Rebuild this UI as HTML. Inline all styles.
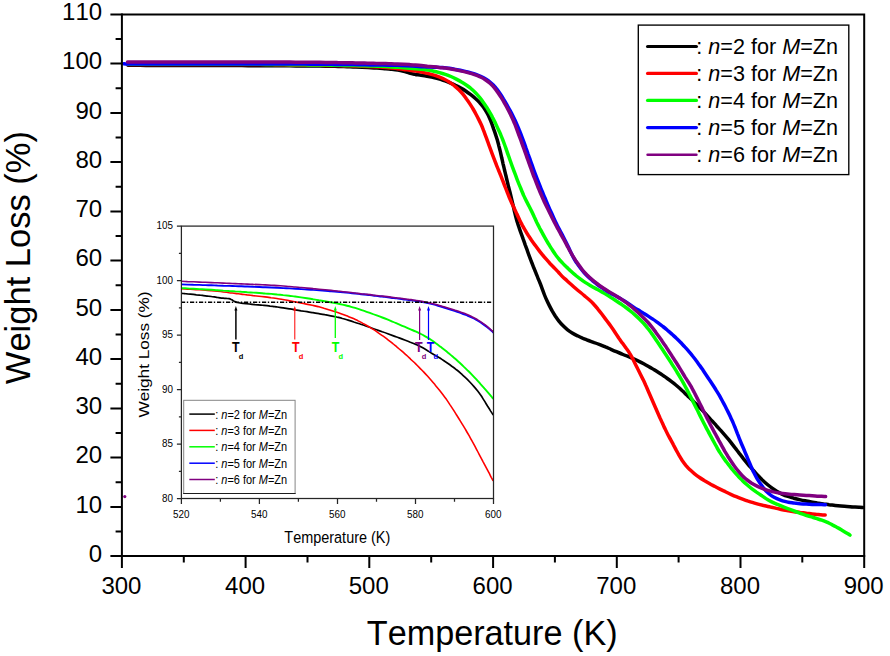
<!DOCTYPE html>
<html><head><meta charset="utf-8"><title>TGA</title>
<style>html,body{margin:0;padding:0;background:#fff}body{width:890px;height:656px;overflow:hidden}svg{display:block}text{font-family:"Liberation Sans",sans-serif;fill:#000;font-kerning:none}</style>
</head><body>
<svg width="890" height="656" viewBox="0 0 890 656">
<rect width="890" height="656" fill="#fff"/>
<g fill="none" stroke-width="3.5" stroke-linejoin="round" stroke-linecap="round">
<path stroke="#000000" d="M128.0,65.3C129.0,65.3 132.0,65.3 134.0,65.3C136.0,65.3 138.0,65.3 140.0,65.3C142.0,65.3 144.0,65.3 146.0,65.4C148.0,65.4 150.0,65.4 152.0,65.4C154.0,65.4 156.0,65.4 158.0,65.4C160.0,65.4 162.0,65.4 164.0,65.4C166.0,65.4 168.0,65.4 170.0,65.4C172.0,65.4 174.0,65.4 176.0,65.4C178.0,65.4 180.0,65.5 182.0,65.5C184.0,65.5 186.0,65.5 188.0,65.5C190.0,65.5 192.0,65.5 194.0,65.5C196.0,65.5 198.0,65.5 200.0,65.5C202.0,65.5 204.0,65.5 206.0,65.5C208.0,65.5 210.0,65.5 212.0,65.5C214.0,65.6 216.0,65.6 218.0,65.6C220.0,65.6 222.0,65.6 224.0,65.6C226.0,65.6 228.0,65.6 230.0,65.6C232.0,65.6 234.0,65.6 236.0,65.6C238.0,65.6 240.0,65.6 242.0,65.6C244.0,65.7 246.0,65.7 248.0,65.7C250.0,65.7 252.0,65.7 254.0,65.7C256.0,65.7 258.0,65.7 260.0,65.7C262.0,65.7 264.0,65.7 266.0,65.7C268.0,65.7 270.0,65.7 272.0,65.8C274.0,65.8 276.0,65.8 278.0,65.8C280.0,65.8 282.0,65.8 284.0,65.8C286.0,65.8 288.0,65.8 290.0,65.8C292.0,65.9 294.0,65.9 296.0,65.9C298.0,65.9 300.0,65.9 302.0,65.9C304.0,65.9 306.0,65.9 308.0,66.0C310.0,66.0 312.0,66.0 314.0,66.0C316.0,66.0 318.0,66.1 320.0,66.1C322.0,66.1 324.0,66.1 326.0,66.2C328.0,66.2 330.0,66.2 332.0,66.3C334.0,66.3 336.0,66.4 338.0,66.4C340.0,66.5 342.0,66.5 344.0,66.6C346.0,66.7 348.0,66.7 350.0,66.8C352.0,66.9 354.0,66.9 356.0,67.0C358.0,67.1 360.0,67.2 362.0,67.3C364.0,67.4 366.0,67.5 368.0,67.6C370.0,67.7 372.0,67.8 374.0,67.9C376.0,68.0 378.0,68.2 379.9,68.3C381.9,68.4 383.9,68.6 385.9,68.7C387.9,68.9 389.9,69.0 391.9,69.2C393.9,69.4 395.9,69.6 397.9,70.0C399.8,70.3 401.8,70.8 403.7,71.3C405.6,71.8 407.5,72.6 409.4,73.1C411.3,73.6 413.3,74.0 415.2,74.4C417.2,74.7 419.2,74.9 421.1,75.2C423.1,75.5 425.1,75.8 427.1,76.2C429.0,76.5 431.0,76.9 432.9,77.4C434.9,77.9 436.8,78.3 438.7,78.9C440.7,79.4 442.6,80.1 444.4,80.7C446.3,81.4 448.2,82.1 450.0,82.9C451.9,83.7 453.7,84.5 455.5,85.4C457.3,86.2 459.1,87.1 460.9,88.1C462.6,89.0 464.3,90.0 466.0,91.2C467.6,92.3 469.2,93.5 470.8,94.7C472.4,95.9 474.0,97.2 475.4,98.5C476.9,99.8 478.4,101.2 479.7,102.7C481.1,104.1 482.3,105.7 483.5,107.3C484.6,108.9 485.7,110.7 486.7,112.4C487.7,114.1 488.6,115.9 489.4,117.7C490.2,119.5 490.9,121.4 491.7,123.3C492.4,125.1 493.0,127.0 493.6,128.9C494.3,130.8 495.0,132.7 495.6,134.6C496.2,136.5 496.8,138.4 497.4,140.3C497.9,142.2 498.5,144.2 498.9,146.1C499.4,148.0 499.9,150.0 500.4,151.9C500.8,153.9 501.3,155.8 501.7,157.8C502.2,159.7 502.6,161.7 503.0,163.6C503.5,165.6 504.0,167.5 504.4,169.5C504.9,171.4 505.3,173.4 505.8,175.3C506.3,177.3 506.7,179.2 507.2,181.1C507.7,183.1 508.1,185.0 508.6,187.0C509.1,188.9 509.6,190.9 510.1,192.8C510.6,194.7 511.0,196.7 511.5,198.6C512.0,200.6 512.4,202.5 512.9,204.5C513.4,206.4 513.8,208.4 514.2,210.3C514.7,212.2 515.1,214.2 515.6,216.1C516.1,218.1 516.6,220.0 517.2,221.9C517.7,223.8 518.4,225.7 519.1,227.6C519.7,229.5 520.4,231.4 521.1,233.3C521.8,235.1 522.5,237.0 523.1,238.9C523.8,240.8 524.5,242.7 525.1,244.6C525.8,246.4 526.5,248.3 527.2,250.2C527.8,252.1 528.5,254.0 529.2,255.8C529.9,257.7 530.6,259.6 531.3,261.5C532.1,263.3 532.8,265.2 533.5,267.0C534.3,268.9 535.0,270.8 535.8,272.6C536.5,274.5 537.3,276.3 538.0,278.2C538.8,280.0 539.5,281.9 540.3,283.7C541.0,285.6 541.7,287.5 542.4,289.4C543.1,291.2 543.8,293.1 544.5,295.0C545.2,296.8 546.0,298.7 546.9,300.5C547.7,302.3 548.6,304.1 549.5,305.9C550.4,307.7 551.3,309.4 552.3,311.2C553.3,312.9 554.3,314.6 555.4,316.3C556.5,317.9 557.7,319.6 558.9,321.1C560.2,322.7 561.5,324.2 562.9,325.6C564.3,327.0 565.8,328.4 567.3,329.6C568.9,330.9 570.5,332.0 572.2,333.0C573.9,334.1 575.7,335.0 577.5,335.8C579.3,336.7 581.1,337.5 583.0,338.3C584.8,339.0 586.7,339.8 588.5,340.5C590.4,341.2 592.3,341.9 594.2,342.6C596.1,343.2 598.0,343.9 599.8,344.6C601.7,345.3 603.5,346.1 605.4,346.9C607.2,347.6 609.0,348.5 610.9,349.3C612.7,350.1 614.5,350.9 616.4,351.7C618.2,352.5 620.0,353.3 621.9,354.0C623.7,354.8 625.6,355.5 627.5,356.2C629.3,357.0 631.2,357.7 633.0,358.5C634.9,359.3 636.6,360.2 638.4,361.1C640.2,362.0 642.0,362.9 643.7,363.8C645.5,364.8 647.3,365.7 649.0,366.7C650.7,367.7 652.5,368.7 654.2,369.7C655.9,370.8 657.6,371.9 659.3,373.0C660.9,374.0 662.6,375.2 664.2,376.3C665.9,377.4 667.5,378.6 669.1,379.7C670.8,380.9 672.3,382.1 673.9,383.4C675.5,384.7 677.0,386.0 678.5,387.3C680.0,388.6 681.4,390.0 682.9,391.3C684.4,392.7 685.8,394.1 687.3,395.4C688.7,396.8 690.2,398.2 691.6,399.6C693.0,401.0 694.5,402.4 695.9,403.8C697.3,405.2 698.7,406.6 700.1,408.1C701.5,409.5 702.9,410.9 704.3,412.4C705.6,413.8 707.0,415.3 708.3,416.8C709.7,418.3 711.0,419.8 712.4,421.2C713.7,422.7 715.1,424.2 716.4,425.7C717.8,427.1 719.1,428.6 720.5,430.1C721.8,431.6 723.1,433.1 724.4,434.6C725.7,436.1 727.0,437.6 728.3,439.2C729.5,440.7 730.8,442.3 732.0,443.9C733.2,445.5 734.4,447.1 735.7,448.6C736.9,450.2 738.1,451.8 739.3,453.4C740.6,455.0 741.8,456.5 743.0,458.1C744.3,459.7 745.5,461.3 746.8,462.8C748.0,464.3 749.3,465.9 750.7,467.4C752.0,468.9 753.3,470.4 754.7,471.8C756.0,473.3 757.3,474.8 758.7,476.3C760.1,477.7 761.5,479.2 762.9,480.5C764.4,481.9 765.9,483.2 767.4,484.5C768.9,485.8 770.5,487.0 772.1,488.2C773.7,489.4 775.4,490.5 777.1,491.5C778.8,492.6 780.6,493.5 782.4,494.3C784.2,495.1 786.1,495.8 788.0,496.4C789.9,497.1 791.8,497.6 793.7,498.2C795.6,498.7 797.6,499.2 799.5,499.6C801.5,500.1 803.5,500.5 805.4,500.8C807.4,501.2 809.3,501.6 811.3,501.9C813.3,502.3 815.3,502.6 817.2,503.0C819.2,503.3 821.2,503.6 823.2,503.9C825.1,504.2 827.1,504.4 829.1,504.7C831.1,504.9 833.1,505.2 835.1,505.4C837.0,505.6 839.0,505.8 841.0,506.0C843.0,506.2 845.0,506.4 847.0,506.5C849.0,506.6 851.0,506.8 853.0,506.9C855.0,507.0 857.3,507.1 859.0,507.2C860.7,507.3 862.3,507.4 863.0,507.4"/>
<path stroke="#ff0000" d="M128.0,64.4C129.0,64.4 132.0,64.4 134.0,64.4C136.0,64.4 138.0,64.4 140.0,64.4C142.0,64.4 144.0,64.4 146.0,64.4C148.0,64.4 150.0,64.4 152.0,64.4C154.0,64.4 156.0,64.4 158.0,64.4C160.0,64.4 162.0,64.4 164.0,64.4C166.0,64.4 168.0,64.4 170.0,64.4C172.0,64.4 174.0,64.4 176.0,64.4C178.0,64.4 180.0,64.4 182.0,64.4C184.0,64.4 186.0,64.4 188.0,64.4C190.0,64.4 192.0,64.4 194.0,64.4C196.0,64.4 198.0,64.4 200.0,64.4C202.0,64.4 204.0,64.4 206.0,64.4C208.0,64.4 210.0,64.4 212.0,64.4C214.0,64.4 216.0,64.4 218.0,64.4C220.0,64.4 222.0,64.4 224.0,64.4C226.0,64.5 228.0,64.5 230.0,64.5C232.0,64.5 234.0,64.5 236.0,64.5C238.0,64.5 240.0,64.5 242.0,64.5C244.0,64.5 246.0,64.5 248.0,64.5C250.0,64.5 252.0,64.5 254.0,64.5C256.0,64.5 258.0,64.5 260.0,64.5C262.0,64.6 264.0,64.6 266.0,64.6C268.0,64.6 270.0,64.6 272.0,64.6C274.0,64.6 276.0,64.7 278.0,64.7C280.0,64.7 282.0,64.7 284.0,64.8C286.0,64.8 288.0,64.8 290.0,64.9C292.0,64.9 294.0,64.9 296.0,64.9C298.0,65.0 300.0,65.0 302.0,65.0C304.0,65.1 306.0,65.1 308.0,65.1C310.0,65.1 312.0,65.2 314.0,65.2C316.0,65.2 318.0,65.2 320.0,65.3C322.0,65.3 324.0,65.3 326.0,65.4C328.0,65.4 330.0,65.4 332.0,65.4C334.0,65.5 336.0,65.5 338.0,65.6C340.0,65.6 342.0,65.6 344.0,65.7C346.0,65.7 348.0,65.8 350.0,65.8C352.0,65.9 354.0,65.9 356.0,66.0C358.0,66.0 360.0,66.1 362.0,66.2C364.0,66.2 366.0,66.3 368.0,66.4C370.0,66.5 372.0,66.6 374.0,66.7C376.0,66.8 378.0,66.9 380.0,67.0C382.0,67.1 384.0,67.3 385.9,67.5C387.9,67.6 389.9,67.8 391.9,68.0C393.9,68.2 395.9,68.4 397.9,68.7C399.9,68.9 401.9,69.1 403.8,69.4C405.8,69.7 407.8,69.9 409.8,70.2C411.8,70.5 413.7,70.8 415.7,71.1C417.7,71.4 419.7,71.8 421.6,72.1C423.6,72.5 425.6,72.9 427.5,73.4C429.4,73.8 431.4,74.3 433.3,74.9C435.2,75.4 437.1,76.1 439.0,76.8C440.8,77.5 442.6,78.3 444.4,79.3C446.2,80.2 447.9,81.2 449.6,82.3C451.3,83.3 452.9,84.5 454.4,85.8C456.0,87.0 457.5,88.4 458.9,89.8C460.3,91.2 461.6,92.7 462.9,94.2C464.2,95.8 465.4,97.4 466.5,99.0C467.7,100.6 468.8,102.2 469.9,103.9C471.0,105.6 472.1,107.3 473.1,109.0C474.1,110.7 475.1,112.5 476.0,114.2C477.0,116.0 477.9,117.8 478.8,119.6C479.7,121.4 480.6,123.2 481.4,125.0C482.2,126.8 482.9,128.7 483.6,130.5C484.4,132.4 485.0,134.3 485.7,136.2C486.4,138.0 487.1,139.9 487.8,141.8C488.4,143.7 489.1,145.6 489.8,147.4C490.5,149.3 491.2,151.2 491.9,153.1C492.6,154.9 493.3,156.8 494.0,158.7C494.7,160.6 495.4,162.4 496.2,164.3C496.9,166.1 497.7,168.0 498.4,169.8C499.2,171.7 499.9,173.5 500.7,175.4C501.4,177.3 502.1,179.1 502.9,181.0C503.6,182.8 504.3,184.7 505.0,186.6C505.8,188.4 506.5,190.3 507.2,192.2C507.9,194.0 508.6,195.9 509.4,197.8C510.2,199.6 511.0,201.4 511.8,203.2C512.7,205.1 513.6,206.8 514.4,208.7C515.3,210.5 516.1,212.3 516.9,214.1C517.8,215.9 518.6,217.8 519.4,219.6C520.3,221.4 521.2,223.1 522.1,224.9C523.1,226.7 524.0,228.4 525.1,230.1C526.1,231.9 527.1,233.6 528.2,235.3C529.3,236.9 530.4,238.6 531.5,240.3C532.6,241.9 533.8,243.5 535.0,245.1C536.2,246.8 537.4,248.4 538.6,249.9C539.8,251.5 541.1,253.1 542.3,254.6C543.6,256.2 544.9,257.7 546.2,259.2C547.5,260.7 548.8,262.2 550.2,263.7C551.6,265.1 553.0,266.5 554.4,268.0C555.8,269.4 557.1,270.9 558.5,272.3C559.9,273.8 561.2,275.3 562.6,276.7C564.1,278.1 565.6,279.4 567.0,280.7C568.5,282.1 570.0,283.4 571.5,284.7C573.0,286.1 574.5,287.4 576.0,288.7C577.5,290.0 579.1,291.3 580.6,292.5C582.2,293.8 583.7,295.1 585.2,296.4C586.8,297.7 588.3,298.9 589.8,300.3C591.3,301.6 592.7,303.0 594.0,304.5C595.4,306.0 596.6,307.5 597.9,309.1C599.2,310.6 600.4,312.2 601.6,313.8C602.8,315.4 604.0,317.0 605.2,318.6C606.4,320.2 607.6,321.8 608.8,323.4C610.0,325.0 611.1,326.7 612.3,328.3C613.4,329.9 614.5,331.6 615.6,333.3C616.7,334.9 617.8,336.6 618.9,338.3C620.1,339.9 621.2,341.5 622.4,343.1C623.6,344.8 624.8,346.3 626.0,348.0C627.2,349.6 628.4,351.2 629.4,352.9C630.5,354.6 631.4,356.3 632.4,358.1C633.3,359.9 634.1,361.7 635.0,363.5C635.9,365.3 636.8,367.1 637.7,368.8C638.6,370.6 639.5,372.4 640.4,374.2C641.3,376.0 642.2,377.8 643.1,379.6C644.0,381.4 644.8,383.2 645.6,385.0C646.5,386.8 647.2,388.6 648.0,390.5C648.8,392.3 649.6,394.2 650.4,396.0C651.2,397.8 652.0,399.7 652.8,401.5C653.6,403.3 654.4,405.2 655.2,407.0C656.0,408.8 656.8,410.7 657.6,412.5C658.4,414.3 659.2,416.2 660.0,418.0C660.9,419.8 661.7,421.6 662.5,423.4C663.4,425.2 664.2,427.1 665.1,428.9C665.9,430.7 666.8,432.5 667.7,434.2C668.7,436.0 669.6,437.8 670.6,439.5C671.5,441.3 672.5,443.0 673.4,444.8C674.4,446.6 675.3,448.3 676.2,450.1C677.2,451.9 678.1,453.6 679.1,455.4C680.1,457.1 681.1,458.8 682.2,460.5C683.3,462.1 684.5,463.7 685.8,465.3C687.1,466.8 688.4,468.3 689.9,469.7C691.3,471.0 692.8,472.4 694.3,473.6C695.9,474.9 697.5,476.1 699.2,477.2C700.8,478.3 702.5,479.4 704.2,480.5C705.9,481.5 707.6,482.5 709.4,483.5C711.1,484.5 712.9,485.4 714.6,486.3C716.4,487.3 718.2,488.2 720.0,489.1C721.8,490.0 723.6,490.9 725.4,491.7C727.2,492.6 729.0,493.5 730.8,494.3C732.6,495.1 734.4,495.9 736.3,496.7C738.1,497.5 740.0,498.2 741.9,498.9C743.7,499.6 745.6,500.2 747.5,500.9C749.4,501.5 751.3,502.1 753.2,502.7C755.2,503.3 757.1,503.9 759.0,504.4C760.9,504.9 762.9,505.4 764.8,505.8C766.8,506.3 768.7,506.6 770.7,507.1C772.6,507.5 774.6,507.9 776.5,508.4C778.5,508.8 780.4,509.3 782.4,509.7C784.4,510.1 786.3,510.4 788.3,510.8C790.3,511.1 792.2,511.4 794.2,511.7C796.2,512.0 798.2,512.2 800.2,512.5C802.2,512.7 804.1,513.0 806.1,513.2C808.1,513.4 810.1,513.7 812.1,513.9C814.1,514.1 816.1,514.2 818.1,514.4C820.1,514.6 822.8,514.9 824.0,515.0C825.2,515.1 825.0,515.1 825.2,515.1"/>
<path stroke="#00ff00" d="M128.0,64.2C129.0,64.2 132.0,64.2 134.0,64.2C136.0,64.2 138.0,64.2 140.0,64.2C142.0,64.2 144.0,64.2 146.0,64.2C148.0,64.2 150.0,64.2 152.0,64.2C154.0,64.2 156.0,64.2 158.0,64.2C160.0,64.2 162.0,64.2 164.0,64.2C166.0,64.2 168.0,64.2 170.0,64.2C172.0,64.2 174.0,64.2 176.0,64.2C178.0,64.2 180.0,64.2 182.0,64.2C184.0,64.2 186.0,64.2 188.0,64.2C190.0,64.2 192.0,64.2 194.0,64.2C196.0,64.2 198.0,64.2 200.0,64.2C202.0,64.2 204.0,64.2 206.0,64.2C208.0,64.2 210.0,64.2 212.0,64.2C214.0,64.2 216.0,64.2 218.0,64.2C220.0,64.2 222.0,64.2 224.0,64.2C226.0,64.3 228.0,64.3 230.0,64.3C232.0,64.3 234.0,64.3 236.0,64.3C238.0,64.3 240.0,64.3 242.0,64.3C244.0,64.3 246.0,64.3 248.0,64.3C250.0,64.3 252.0,64.3 254.0,64.3C256.0,64.3 258.0,64.3 260.0,64.3C262.0,64.4 264.0,64.4 266.0,64.4C268.0,64.4 270.0,64.4 272.0,64.4C274.0,64.5 276.0,64.5 278.0,64.5C280.0,64.5 282.0,64.5 284.0,64.6C286.0,64.6 288.0,64.6 290.0,64.7C292.0,64.7 294.0,64.7 296.0,64.7C298.0,64.8 300.0,64.8 302.0,64.8C304.0,64.8 306.0,64.9 308.0,64.9C310.0,64.9 312.0,64.9 314.0,65.0C316.0,65.0 318.0,65.0 320.0,65.0C322.0,65.1 324.0,65.1 326.0,65.1C328.0,65.2 330.0,65.2 332.0,65.2C334.0,65.2 336.0,65.3 338.0,65.3C340.0,65.3 342.0,65.4 344.0,65.4C346.0,65.4 348.0,65.5 350.0,65.5C352.0,65.5 354.0,65.6 356.0,65.6C358.0,65.7 360.0,65.7 362.0,65.8C364.0,65.8 366.0,65.9 368.0,65.9C370.0,66.0 372.0,66.0 374.0,66.1C376.0,66.2 378.0,66.2 380.0,66.3C382.0,66.4 384.0,66.5 386.0,66.6C388.0,66.7 390.0,66.8 392.0,66.9C394.0,67.0 396.0,67.1 398.0,67.3C399.9,67.4 401.9,67.5 403.9,67.7C405.9,67.8 407.9,68.0 409.9,68.2C411.9,68.3 413.9,68.5 415.9,68.7C417.9,68.9 419.9,69.1 421.9,69.3C423.8,69.5 425.8,69.8 427.8,70.1C429.8,70.4 431.7,70.8 433.7,71.2C435.7,71.6 437.6,72.1 439.5,72.6C441.4,73.2 443.4,73.8 445.3,74.4C447.1,75.0 449.0,75.7 450.9,76.5C452.7,77.3 454.5,78.2 456.3,79.1C458.1,80.0 459.8,80.9 461.5,82.0C463.2,83.0 464.9,84.1 466.6,85.2C468.2,86.3 469.8,87.5 471.3,88.8C472.9,90.1 474.3,91.5 475.7,92.9C477.1,94.3 478.4,95.9 479.6,97.4C480.9,99.0 482.1,100.6 483.2,102.2C484.4,103.9 485.5,105.5 486.6,107.2C487.6,108.9 488.7,110.6 489.7,112.3C490.7,114.1 491.7,115.8 492.6,117.6C493.5,119.3 494.4,121.1 495.3,122.9C496.1,124.7 497.0,126.6 497.8,128.4C498.6,130.2 499.5,132.0 500.3,133.8C501.1,135.7 501.9,137.5 502.6,139.4C503.3,141.2 504.0,143.1 504.7,145.0C505.4,146.9 506.0,148.8 506.7,150.6C507.3,152.5 508.0,154.4 508.7,156.3C509.3,158.2 510.0,160.1 510.7,162.0C511.3,163.8 512.0,165.7 512.7,167.6C513.4,169.5 514.1,171.4 514.8,173.2C515.5,175.1 516.2,177.0 516.9,178.8C517.6,180.7 518.4,182.6 519.1,184.4C519.9,186.3 520.6,188.1 521.4,190.0C522.2,191.8 522.9,193.7 523.7,195.5C524.6,197.3 525.4,199.1 526.3,200.9C527.2,202.7 528.2,204.5 529.1,206.2C530.0,208.0 530.9,209.8 531.8,211.6C532.7,213.4 533.5,215.2 534.3,217.0C535.2,218.8 536.0,220.7 536.8,222.5C537.7,224.3 538.6,226.0 539.5,227.8C540.5,229.6 541.4,231.4 542.4,233.1C543.3,234.9 544.3,236.6 545.3,238.3C546.3,240.1 547.3,241.8 548.3,243.5C549.4,245.2 550.4,246.9 551.5,248.6C552.6,250.3 553.6,252.0 554.8,253.6C555.9,255.3 557.1,256.9 558.4,258.4C559.6,260.0 561.0,261.4 562.4,262.9C563.7,264.3 565.2,265.7 566.6,267.1C568.1,268.5 569.5,269.9 571.0,271.2C572.5,272.6 573.9,273.9 575.5,275.2C577.0,276.5 578.6,277.7 580.2,278.9C581.8,280.1 583.4,281.3 585.1,282.4C586.8,283.5 588.5,284.5 590.2,285.5C591.9,286.5 593.7,287.5 595.4,288.4C597.2,289.4 599.0,290.3 600.7,291.3C602.4,292.3 604.2,293.3 605.9,294.3C607.6,295.3 609.3,296.4 611.0,297.5C612.7,298.5 614.4,299.6 616.0,300.7C617.7,301.8 619.4,302.9 621.0,304.0C622.7,305.2 624.3,306.3 625.9,307.5C627.5,308.7 629.1,309.9 630.6,311.2C632.2,312.5 633.7,313.8 635.2,315.1C636.7,316.4 638.2,317.8 639.6,319.2C641.0,320.6 642.4,322.0 643.8,323.5C645.1,325.0 646.4,326.5 647.6,328.1C648.9,329.6 650.1,331.2 651.2,332.9C652.4,334.5 653.5,336.1 654.6,337.8C655.7,339.5 656.8,341.1 658.0,342.8C659.1,344.5 660.2,346.1 661.3,347.8C662.4,349.4 663.5,351.1 664.6,352.8C665.7,354.4 666.8,356.1 667.9,357.8C669.0,359.5 670.1,361.1 671.2,362.8C672.2,364.5 673.3,366.2 674.4,367.9C675.4,369.6 676.5,371.3 677.5,373.0C678.6,374.7 679.6,376.4 680.6,378.2C681.6,379.9 682.6,381.6 683.6,383.4C684.5,385.1 685.5,386.9 686.4,388.6C687.4,390.4 688.3,392.2 689.2,394.0C690.1,395.7 691.0,397.5 691.9,399.3C692.8,401.1 693.7,402.9 694.6,404.7C695.5,406.5 696.4,408.3 697.3,410.0C698.2,411.8 699.0,413.6 699.9,415.4C700.8,417.2 701.7,419.0 702.6,420.8C703.5,422.6 704.4,424.4 705.4,426.1C706.3,427.9 707.2,429.7 708.2,431.4C709.1,433.2 710.1,434.9 711.0,436.7C712.0,438.5 712.9,440.2 713.9,442.0C714.8,443.7 715.8,445.5 716.8,447.2C717.7,449.0 718.8,450.7 719.8,452.4C720.9,454.1 722.0,455.7 723.1,457.4C724.3,459.0 725.5,460.7 726.7,462.3C727.9,463.9 729.1,465.4 730.3,467.0C731.5,468.6 732.8,470.1 734.1,471.7C735.4,473.2 736.7,474.7 738.1,476.1C739.4,477.6 740.9,479.0 742.3,480.4C743.7,481.8 745.2,483.2 746.7,484.5C748.2,485.8 749.7,487.1 751.3,488.3C752.9,489.5 754.5,490.7 756.1,491.9C757.8,493.0 759.5,494.1 761.1,495.2C762.8,496.3 764.4,497.5 766.0,498.6C767.7,499.7 769.4,500.7 771.2,501.6C773.0,502.5 774.8,503.4 776.6,504.2C778.5,505.0 780.3,505.7 782.2,506.4C784.0,507.2 785.9,507.9 787.8,508.6C789.7,509.3 791.5,510.0 793.4,510.7C795.3,511.4 797.1,512.1 799.0,512.8C800.9,513.5 802.8,514.1 804.7,514.8C806.6,515.4 808.5,516.1 810.4,516.7C812.3,517.3 814.2,517.8 816.1,518.4C818.0,519.0 820.0,519.5 821.8,520.2C823.7,520.9 825.6,521.6 827.4,522.4C829.2,523.3 831.0,524.1 832.8,525.1C834.6,526.0 836.3,527.0 838.0,527.9C839.8,528.9 841.5,530.0 843.2,531.0C844.9,532.0 847.2,533.4 848.4,534.1C849.5,534.8 849.7,534.9 850.0,535.1"/>
<path stroke="#0000ff" d="M123.6,63.7C123.9,63.7 124.3,63.8 125.5,63.9C126.6,63.9 128.8,63.9 130.7,63.9C132.6,63.9 134.7,63.9 136.7,63.9C138.7,63.9 140.7,63.9 142.7,63.9C144.7,63.9 146.7,63.9 148.7,63.9C150.7,63.9 152.7,63.9 154.7,63.9C156.7,63.9 158.7,63.9 160.7,63.9C162.7,63.9 164.7,63.9 166.7,63.9C168.7,63.9 170.7,63.9 172.7,63.9C174.7,63.9 176.7,63.9 178.7,63.9C180.7,63.9 182.7,63.9 184.7,63.9C186.7,63.9 188.7,63.9 190.7,63.9C192.7,63.9 194.7,63.9 196.7,63.9C198.7,63.9 200.7,63.9 202.7,63.9C204.7,63.9 206.7,63.9 208.7,63.9C210.7,63.9 212.7,63.9 214.7,63.9C216.7,63.9 218.7,63.9 220.7,63.9C222.7,63.9 224.7,63.9 226.7,63.9C228.7,63.9 230.7,63.9 232.7,63.9C234.7,63.9 236.7,63.9 238.7,63.9C240.7,64.0 242.7,64.0 244.7,64.0C246.7,64.0 248.7,64.0 250.7,64.0C252.7,64.0 254.7,64.0 256.7,64.0C258.7,64.0 260.7,64.0 262.7,64.0C264.7,64.0 266.7,64.0 268.7,64.0C270.7,64.0 272.7,64.0 274.7,64.0C276.7,64.0 278.7,64.0 280.7,64.0C282.7,64.0 284.7,64.0 286.7,64.1C288.7,64.1 290.7,64.1 292.7,64.1C294.7,64.1 296.7,64.1 298.7,64.1C300.7,64.1 302.7,64.1 304.7,64.1C306.7,64.1 308.7,64.1 310.7,64.2C312.7,64.2 314.7,64.2 316.7,64.2C318.7,64.2 320.7,64.2 322.7,64.3C324.7,64.3 326.7,64.3 328.7,64.3C330.7,64.3 332.7,64.4 334.7,64.4C336.7,64.4 338.7,64.4 340.7,64.5C342.7,64.5 344.7,64.5 346.7,64.6C348.7,64.6 350.7,64.6 352.7,64.6C354.7,64.7 356.7,64.7 358.7,64.7C360.7,64.7 362.7,64.8 364.7,64.8C366.7,64.8 368.7,64.8 370.7,64.9C372.7,64.9 374.7,64.9 376.7,65.0C378.7,65.0 380.7,65.0 382.7,65.1C384.7,65.1 386.7,65.1 388.7,65.2C390.7,65.2 392.7,65.2 394.7,65.3C396.7,65.3 398.7,65.4 400.7,65.4C402.7,65.5 404.7,65.6 406.7,65.7C408.7,65.8 410.7,65.9 412.7,66.0C414.7,66.1 416.7,66.3 418.6,66.4C420.6,66.6 422.6,66.7 424.6,66.8C426.6,67.0 428.6,67.1 430.6,67.1C432.6,67.2 434.6,67.2 436.6,67.3C438.6,67.3 440.6,67.4 442.6,67.5C444.6,67.7 446.6,67.9 448.6,68.2C450.5,68.5 452.5,68.8 454.5,69.2C456.4,69.5 458.4,69.9 460.4,70.3C462.3,70.7 464.3,71.1 466.2,71.6C468.2,72.1 470.1,72.7 472.0,73.2C473.9,73.8 475.8,74.4 477.7,75.1C479.5,75.8 481.4,76.6 483.2,77.5C484.9,78.4 486.7,79.4 488.3,80.6C489.9,81.8 491.3,83.1 492.8,84.5C494.2,85.9 495.5,87.4 496.7,89.0C498.0,90.5 499.1,92.2 500.2,93.8C501.4,95.5 502.4,97.2 503.4,98.9C504.5,100.6 505.5,102.3 506.5,104.1C507.4,105.8 508.4,107.6 509.4,109.3C510.3,111.1 511.3,112.8 512.2,114.6C513.1,116.4 514.0,118.2 514.9,120.0C515.7,121.8 516.5,123.6 517.3,125.5C518.1,127.3 518.9,129.1 519.6,131.0C520.4,132.9 521.1,134.7 521.8,136.6C522.5,138.5 523.2,140.3 523.9,142.2C524.6,144.1 525.3,146.0 525.9,147.9C526.6,149.7 527.3,151.6 527.9,153.5C528.6,155.4 529.3,157.3 530.0,159.2C530.6,161.0 531.3,162.9 532.0,164.8C532.6,166.7 533.3,168.6 534.0,170.5C534.7,172.3 535.4,174.2 536.1,176.1C536.8,178.0 537.5,179.8 538.3,181.7C539.0,183.5 539.7,185.4 540.5,187.3C541.2,189.1 542.0,191.0 542.8,192.8C543.5,194.7 544.3,196.5 545.1,198.3C545.9,200.2 546.6,202.0 547.4,203.9C548.2,205.7 549.0,207.5 549.8,209.4C550.6,211.2 551.5,213.0 552.3,214.8C553.1,216.7 553.9,218.5 554.8,220.3C555.7,222.1 556.5,223.9 557.4,225.7C558.3,227.5 559.3,229.2 560.2,231.0C561.1,232.8 562.1,234.5 563.0,236.3C563.9,238.1 564.8,239.9 565.7,241.6C566.6,243.4 567.5,245.2 568.4,247.0C569.2,248.8 570.0,250.7 570.9,252.5C571.8,254.3 572.6,256.1 573.6,257.8C574.6,259.6 575.6,261.3 576.7,262.9C577.8,264.6 579.0,266.2 580.2,267.8C581.4,269.4 582.6,271.0 584.0,272.5C585.3,273.9 586.7,275.4 588.1,276.8C589.6,278.2 591.1,279.5 592.6,280.8C594.1,282.0 595.7,283.3 597.3,284.5C598.9,285.7 600.5,286.8 602.2,287.9C603.9,289.1 605.5,290.2 607.2,291.2C608.9,292.3 610.7,293.2 612.4,294.2C614.2,295.1 616.0,296.0 617.7,297.0C619.4,298.0 621.1,299.0 622.8,300.1C624.5,301.1 626.2,302.2 627.9,303.3C629.6,304.4 631.2,305.5 632.9,306.6C634.6,307.7 636.3,308.8 638.0,309.8C639.6,310.9 641.4,311.9 643.1,313.0C644.8,314.0 646.5,315.0 648.2,316.1C649.9,317.2 651.6,318.3 653.2,319.4C654.9,320.5 656.5,321.7 658.1,322.8C659.7,324.0 661.3,325.2 662.9,326.5C664.5,327.7 666.0,329.0 667.5,330.3C669.1,331.5 670.6,332.9 672.0,334.2C673.5,335.6 675.0,336.9 676.4,338.3C677.9,339.7 679.3,341.1 680.7,342.5C682.1,344.0 683.5,345.4 684.8,346.9C686.2,348.4 687.5,349.8 688.8,351.4C690.1,352.9 691.4,354.4 692.6,356.0C693.9,357.6 695.1,359.1 696.3,360.8C697.5,362.4 698.6,364.0 699.8,365.6C701.0,367.2 702.1,368.9 703.2,370.5C704.3,372.2 705.4,373.9 706.5,375.5C707.6,377.2 708.7,378.9 709.9,380.5C711.0,382.2 712.1,383.8 713.2,385.5C714.3,387.2 715.4,388.9 716.4,390.6C717.5,392.3 718.5,394.0 719.5,395.7C720.5,397.5 721.4,399.2 722.4,401.0C723.3,402.7 724.3,404.5 725.2,406.3C726.1,408.1 727.0,409.8 727.9,411.6C728.8,413.4 729.7,415.2 730.5,417.0C731.3,418.9 732.2,420.7 733.0,422.5C733.7,424.4 734.5,426.2 735.3,428.1C736.0,429.9 736.7,431.8 737.4,433.6C738.2,435.5 738.8,437.4 739.6,439.2C740.3,441.1 741.1,442.9 741.9,444.8C742.7,446.6 743.5,448.5 744.3,450.3C745.0,452.1 745.8,454.0 746.6,455.8C747.4,457.7 748.1,459.5 748.9,461.4C749.7,463.2 750.4,465.0 751.3,466.9C752.1,468.7 752.8,470.6 753.7,472.3C754.6,474.1 755.5,475.9 756.5,477.6C757.5,479.4 758.6,481.0 759.7,482.7C760.9,484.3 762.0,486.0 763.2,487.5C764.5,489.1 765.7,490.7 767.1,492.1C768.5,493.5 770.0,494.8 771.7,495.9C773.3,496.9 775.1,497.8 776.9,498.6C778.7,499.4 780.6,500.2 782.5,500.8C784.4,501.4 786.4,501.8 788.3,502.2C790.3,502.6 792.3,502.8 794.2,503.1C796.2,503.3 798.2,503.5 800.2,503.7C802.2,503.8 804.2,504.0 806.2,504.1C808.2,504.2 810.2,504.3 812.2,504.4C814.2,504.5 816.2,504.5 818.2,504.5C820.2,504.6 822.9,504.6 824.2,504.7C825.4,504.7 825.4,504.7 825.6,504.7"/>
<path stroke="#800080" d="M127.5,61.9C128.5,61.9 131.5,61.9 133.5,61.9C135.5,61.9 137.5,61.9 139.5,61.9C141.5,61.9 143.5,61.9 145.5,61.9C147.5,61.9 149.5,61.9 151.5,61.9C153.5,61.9 155.5,61.9 157.5,61.9C159.5,61.9 161.5,61.9 163.5,61.9C165.5,61.9 167.5,61.9 169.5,61.9C171.5,61.9 173.5,61.9 175.5,61.9C177.5,61.9 179.5,61.9 181.5,61.9C183.5,61.9 185.5,61.9 187.5,61.9C189.5,61.9 191.5,61.9 193.5,61.9C195.5,61.9 197.5,61.9 199.5,61.9C201.5,61.9 203.5,61.9 205.5,61.9C207.5,61.9 209.5,61.9 211.5,61.9C213.5,61.9 215.5,61.9 217.5,61.9C219.5,61.9 221.5,61.9 223.5,61.9C225.5,61.9 227.5,62.0 229.5,62.0C231.5,62.0 233.5,62.0 235.5,62.0C237.5,62.0 239.5,62.0 241.5,62.0C243.5,62.0 245.5,62.0 247.5,62.0C249.5,62.0 251.5,62.0 253.5,62.0C255.5,62.0 257.5,62.0 259.5,62.0C261.5,62.0 263.5,62.0 265.5,62.1C267.5,62.1 269.5,62.1 271.5,62.1C273.5,62.1 275.5,62.1 277.5,62.1C279.5,62.1 281.5,62.1 283.5,62.1C285.5,62.1 287.5,62.1 289.5,62.1C291.5,62.2 293.5,62.2 295.5,62.2C297.5,62.2 299.5,62.2 301.5,62.2C303.5,62.2 305.5,62.2 307.5,62.2C309.5,62.3 311.5,62.3 313.5,62.3C315.5,62.3 317.5,62.3 319.5,62.3C321.5,62.4 323.5,62.4 325.5,62.4C327.5,62.4 329.5,62.5 331.5,62.5C333.5,62.5 335.5,62.5 337.5,62.6C339.5,62.6 341.5,62.6 343.5,62.7C345.5,62.7 347.5,62.8 349.5,62.8C351.5,62.8 353.5,62.9 355.5,62.9C357.5,63.0 359.5,63.0 361.5,63.0C363.5,63.1 365.5,63.1 367.5,63.2C369.5,63.2 371.5,63.3 373.5,63.3C375.5,63.4 377.5,63.4 379.5,63.5C381.5,63.5 383.5,63.6 385.5,63.6C387.5,63.7 389.5,63.8 391.5,63.8C393.5,63.9 395.5,63.9 397.5,64.0C399.5,64.1 401.5,64.2 403.5,64.3C405.5,64.4 407.5,64.5 409.5,64.6C411.5,64.8 413.4,65.0 415.4,65.1C417.4,65.3 419.4,65.5 421.4,65.6C423.4,65.8 425.4,66.0 427.4,66.2C429.4,66.3 431.4,66.5 433.4,66.7C435.4,66.9 437.3,67.1 439.3,67.4C441.3,67.6 443.3,67.9 445.3,68.1C447.3,68.4 449.2,68.7 451.2,69.0C453.2,69.4 455.2,69.7 457.1,70.1C459.1,70.5 461.0,70.9 463.0,71.4C464.9,71.8 466.9,72.3 468.8,72.9C470.7,73.4 472.6,74.0 474.5,74.7C476.4,75.3 478.3,76.0 480.1,76.8C481.9,77.7 483.7,78.6 485.3,79.7C487.0,80.8 488.6,82.0 490.0,83.3C491.5,84.7 492.9,86.1 494.2,87.6C495.5,89.2 496.7,90.8 497.8,92.4C499.0,94.0 500.0,95.7 501.1,97.4C502.2,99.1 503.2,100.8 504.2,102.6C505.2,104.3 506.2,106.0 507.1,107.8C508.1,109.5 509.0,111.3 509.9,113.1C510.8,114.9 511.6,116.7 512.4,118.5C513.3,120.3 514.0,122.2 514.8,124.0C515.5,125.9 516.2,127.8 516.9,129.6C517.6,131.5 518.3,133.4 519.0,135.3C519.7,137.2 520.4,139.0 521.1,140.9C521.7,142.8 522.4,144.7 523.1,146.6C523.8,148.4 524.4,150.3 525.1,152.2C525.8,154.1 526.5,156.0 527.1,157.9C527.8,159.7 528.5,161.6 529.1,163.5C529.8,165.4 530.5,167.3 531.2,169.2C531.8,171.0 532.5,172.9 533.2,174.8C533.9,176.7 534.7,178.5 535.4,180.4C536.1,182.3 536.8,184.1 537.6,186.0C538.3,187.8 539.1,189.7 539.8,191.5C540.6,193.4 541.4,195.2 542.2,197.1C543.0,198.9 543.8,200.7 544.6,202.5C545.5,204.3 546.4,206.1 547.3,207.9C548.1,209.7 549.0,211.5 549.9,213.3C550.8,215.1 551.7,216.9 552.6,218.7C553.5,220.5 554.4,222.3 555.3,224.0C556.2,225.8 557.2,227.6 558.1,229.3C559.1,231.1 560.1,232.8 561.0,234.6C562.0,236.3 563.0,238.1 563.9,239.8C564.9,241.6 565.8,243.3 566.8,245.1C567.7,246.9 568.7,248.6 569.6,250.4C570.6,252.1 571.6,253.9 572.6,255.6C573.7,257.3 574.7,259.0 575.8,260.7C576.9,262.3 578.0,264.0 579.2,265.6C580.3,267.2 581.6,268.8 582.8,270.4C584.1,271.9 585.5,273.4 586.8,274.8C588.2,276.2 589.7,277.6 591.2,278.9C592.7,280.2 594.3,281.5 595.8,282.7C597.4,284.0 599.0,285.1 600.7,286.3C602.3,287.4 604.0,288.6 605.6,289.6C607.3,290.7 609.0,291.8 610.7,292.8C612.5,293.8 614.2,294.7 615.9,295.8C617.6,296.8 619.4,297.8 621.0,298.9C622.7,300.0 624.3,301.2 625.9,302.4C627.6,303.5 629.1,304.8 630.7,306.0C632.2,307.3 633.7,308.6 635.2,310.0C636.7,311.3 638.2,312.6 639.6,314.0C641.1,315.4 642.5,316.8 643.9,318.2C645.3,319.6 646.7,321.0 648.1,322.5C649.4,324.0 650.7,325.6 651.9,327.1C653.2,328.7 654.4,330.3 655.6,331.9C656.7,333.5 657.9,335.1 659.1,336.8C660.2,338.4 661.4,340.0 662.5,341.7C663.6,343.3 664.8,345.0 665.9,346.6C667.0,348.3 668.1,350.0 669.2,351.7C670.3,353.3 671.4,355.0 672.4,356.7C673.5,358.4 674.6,360.0 675.7,361.7C676.8,363.4 677.8,365.1 678.9,366.8C679.9,368.5 681.0,370.2 682.0,371.9C683.0,373.6 684.1,375.4 685.1,377.1C686.2,378.8 687.3,380.4 688.4,382.1C689.4,383.8 690.5,385.5 691.5,387.2C692.4,389.0 693.4,390.8 694.3,392.5C695.2,394.3 696.1,396.1 697.0,397.9C697.9,399.7 698.8,401.5 699.7,403.2C700.6,405.0 701.5,406.8 702.4,408.6C703.2,410.4 704.1,412.2 705.0,414.0C705.9,415.8 706.8,417.6 707.7,419.4C708.6,421.1 709.5,422.9 710.4,424.7C711.3,426.5 712.3,428.3 713.2,430.0C714.1,431.8 715.1,433.5 716.1,435.3C717.0,437.1 718.0,438.8 718.9,440.6C719.9,442.3 720.8,444.1 721.8,445.8C722.8,447.6 723.7,449.3 724.7,451.1C725.8,452.8 726.8,454.5 727.8,456.2C728.9,457.9 730.0,459.6 731.1,461.2C732.2,462.9 733.3,464.6 734.5,466.2C735.7,467.8 736.9,469.4 738.1,470.9C739.4,472.5 740.7,474.0 742.1,475.4C743.5,476.8 745.0,478.2 746.5,479.5C748.1,480.7 749.7,481.9 751.3,483.0C753.0,484.1 754.8,485.0 756.6,485.9C758.3,486.8 760.2,487.6 762.1,488.3C763.9,489.0 765.8,489.7 767.7,490.3C769.6,490.9 771.6,491.4 773.5,491.9C775.4,492.3 777.4,492.7 779.4,493.0C781.3,493.3 783.3,493.6 785.3,493.8C787.3,494.0 789.3,494.2 791.3,494.4C793.3,494.5 795.3,494.7 797.3,494.8C799.3,495.0 801.3,495.1 803.3,495.2C805.3,495.3 807.2,495.5 809.2,495.6C811.2,495.7 813.2,495.8 815.2,495.9C817.2,496.1 819.5,496.2 821.2,496.3C823.0,496.4 824.9,496.5 825.6,496.6"/>
</g>
<circle cx="124.8" cy="496.6" r="1.6" fill="#800080"/>
<g stroke="#000" stroke-width="2" fill="none" stroke-linecap="butt">
<path d="M110.4,14.4 H864.2 V568.1"/>
<path d="M121.9,13.4 V568.1"/>
<path d="M110.4,556.1 H865.2"/>
<path d="M115.6,39.0H121.9M110.4,63.6H121.9M115.6,88.3H121.9M110.4,112.9H121.9M115.6,137.5H121.9M110.4,162.1H121.9M115.6,186.8H121.9M110.4,211.4H121.9M115.6,236.0H121.9M110.4,260.6H121.9M115.6,285.2H121.9M110.4,309.9H121.9M115.6,334.5H121.9M110.4,359.1H121.9M115.6,383.7H121.9M110.4,408.4H121.9M115.6,433.0H121.9M110.4,457.6H121.9M115.6,482.2H121.9M110.4,506.9H121.9M115.6,531.5H121.9M183.8,556.1V562.6M245.6,556.1V568.1M307.5,556.1V562.6M369.3,556.1V568.1M431.2,556.1V562.6M493.1,556.1V568.1M554.9,556.1V562.6M616.8,556.1V568.1M678.6,556.1V562.6M740.5,556.1V568.1M802.3,556.1V562.6"/>
</g>
<g font-size="24px">
<text x="102.1" y="20.2" text-anchor="end">110</text>
<text x="102.1" y="69.4" text-anchor="end">100</text>
<text x="102.1" y="118.7" text-anchor="end">90</text>
<text x="102.1" y="167.9" text-anchor="end">80</text>
<text x="102.1" y="217.2" text-anchor="end">70</text>
<text x="102.1" y="266.4" text-anchor="end">60</text>
<text x="102.1" y="315.7" text-anchor="end">50</text>
<text x="102.1" y="364.9" text-anchor="end">40</text>
<text x="102.1" y="414.2" text-anchor="end">30</text>
<text x="102.1" y="463.4" text-anchor="end">20</text>
<text x="102.1" y="512.7" text-anchor="end">10</text>
<text x="102.1" y="561.9" text-anchor="end">0</text>
<text x="121.4" y="594.2" text-anchor="middle">300</text>
<text x="245.1" y="594.2" text-anchor="middle">400</text>
<text x="368.8" y="594.2" text-anchor="middle">500</text>
<text x="492.6" y="594.2" text-anchor="middle">600</text>
<text x="616.3" y="594.2" text-anchor="middle">700</text>
<text x="740.0" y="594.2" text-anchor="middle">800</text>
<text x="863.7" y="594.2" text-anchor="middle">900</text>
</g>
<text x="492.2" y="645.1" font-size="34.2px" text-anchor="middle">Temperature (K)</text>
<text transform="translate(29.9,257.6) rotate(-90)" font-size="34.5px" text-anchor="middle">Weight Loss (%)</text>
<rect x="638.3" y="25.1" width="210.5" height="149.5" fill="#fff" stroke="#000" stroke-width="1.35"/>
<path d="M647.6,46.5H696.4" stroke="#000000" stroke-width="3.2" fill="none" stroke-linecap="round"/>
<text x="696.3" y="53.7" font-size="21.6px">: <tspan font-style="italic">n</tspan>=2 for <tspan font-style="italic">M</tspan>=Zn</text>
<path d="M647.6,73.4H696.4" stroke="#ff0000" stroke-width="3.2" fill="none" stroke-linecap="round"/>
<text x="696.3" y="80.6" font-size="21.6px">: <tspan font-style="italic">n</tspan>=3 for <tspan font-style="italic">M</tspan>=Zn</text>
<path d="M647.6,100.4H696.4" stroke="#00ff00" stroke-width="3.3" fill="none" stroke-linecap="round"/>
<text x="696.3" y="107.6" font-size="21.6px">: <tspan font-style="italic">n</tspan>=4 for <tspan font-style="italic">M</tspan>=Zn</text>
<path d="M647.6,127.6H696.4" stroke="#0000ff" stroke-width="3.2" fill="none" stroke-linecap="round"/>
<text x="696.3" y="134.8" font-size="21.6px">: <tspan font-style="italic">n</tspan>=5 for <tspan font-style="italic">M</tspan>=Zn</text>
<path d="M647.6,154.7H696.4" stroke="#800080" stroke-width="2.6" fill="none" stroke-linecap="round"/>
<text x="696.3" y="161.9" font-size="21.6px">: <tspan font-style="italic">n</tspan>=6 for <tspan font-style="italic">M</tspan>=Zn</text>
<rect x="181.4" y="226.1" width="312.1" height="272.4" fill="#fff" stroke="none"/>
<clipPath id="ic"><rect x="181.4" y="226.1" width="312.6" height="272.4"/></clipPath>
<g clip-path="url(#ic)" fill="none" stroke-width="1.5" stroke-linejoin="round">
<path stroke="#000000" stroke-width="1.7" d="M181.4,293.3C181.9,293.3 183.4,293.5 184.4,293.6C185.4,293.7 186.4,293.8 187.4,293.9C188.4,293.9 189.4,294.0 190.4,294.1C191.4,294.2 192.4,294.3 193.3,294.4C194.3,294.5 195.3,294.6 196.3,294.8C197.3,294.9 198.3,295.0 199.3,295.1C200.3,295.2 201.3,295.3 202.3,295.4C203.3,295.6 204.3,295.7 205.3,295.8C206.3,295.9 207.3,296.0 208.2,296.2C209.2,296.3 210.2,296.4 211.2,296.5C212.2,296.7 213.2,296.8 214.2,296.9C215.2,297.1 216.2,297.2 217.2,297.4C218.2,297.5 219.1,297.7 220.1,297.8C221.1,298.0 222.1,298.1 223.1,298.2C224.1,298.3 225.1,298.3 226.1,298.4C227.1,298.5 228.1,298.5 229.1,298.7C230.0,298.9 230.9,299.4 231.8,299.8C232.7,300.3 233.5,300.9 234.4,301.4C235.3,301.8 236.2,302.2 237.2,302.5C238.1,302.7 239.1,302.9 240.1,303.0C241.1,303.2 242.1,303.3 243.1,303.4C244.1,303.5 245.1,303.6 246.1,303.7C247.1,303.8 248.1,303.9 249.1,304.0C250.1,304.1 251.0,304.2 252.0,304.3C253.0,304.4 254.0,304.5 255.0,304.6C256.0,304.6 257.0,304.7 258.0,304.8C259.0,304.9 260.0,305.0 261.0,305.1C262.0,305.2 263.0,305.3 264.0,305.4C265.0,305.5 266.0,305.6 267.0,305.7C268.0,305.8 269.0,305.9 270.0,306.1C270.9,306.2 271.9,306.3 272.9,306.4C273.9,306.6 275.2,306.7 275.9,306.8C276.7,306.9 276.2,306.8 277.4,307.0C278.6,307.2 281.4,307.6 283.3,307.9C285.3,308.2 287.3,308.5 289.3,308.8C291.2,309.1 293.2,309.4 295.2,309.8C297.2,310.1 299.1,310.4 301.1,310.8C303.1,311.1 305.0,311.4 307.0,311.7C309.0,312.1 311.0,312.4 312.9,312.7C314.9,313.1 316.9,313.4 318.9,313.7C320.8,314.0 322.8,314.3 324.8,314.7C326.7,315.0 328.7,315.4 330.7,315.8C332.6,316.2 334.6,316.6 336.5,317.0C338.5,317.5 340.4,317.9 342.4,318.5C344.3,319.0 346.2,319.6 348.1,320.1C350.0,320.7 351.9,321.3 353.8,322.0C355.8,322.6 357.7,323.2 359.5,323.8C361.4,324.5 363.3,325.1 365.2,325.8C367.1,326.4 369.0,327.1 370.9,327.7C372.8,328.4 374.7,329.1 376.6,329.7C378.4,330.4 380.3,331.1 382.2,331.8C384.1,332.4 386.0,333.1 387.8,333.8C389.7,334.5 391.6,335.2 393.5,335.9C395.3,336.6 397.2,337.2 399.1,337.9C401.0,338.6 402.9,339.3 404.7,340.0C406.6,340.7 408.5,341.4 410.3,342.2C412.2,342.9 414.1,343.6 415.9,344.4C417.7,345.3 419.5,346.1 421.3,347.1C423.0,348.0 424.7,349.0 426.5,350.1C428.2,351.1 429.9,352.2 431.6,353.2C433.3,354.2 435.0,355.2 436.7,356.3C438.4,357.3 440.2,358.3 441.9,359.4C443.5,360.5 445.2,361.6 446.9,362.7C448.5,363.8 450.2,365.0 451.8,366.2C453.4,367.3 455.0,368.5 456.5,369.8C458.1,371.0 459.6,372.3 461.1,373.6C462.6,375.0 464.1,376.3 465.5,377.7C467.0,379.1 468.4,380.5 469.8,382.0C471.1,383.4 472.5,384.9 473.8,386.4C475.1,387.9 476.4,389.4 477.7,391.0C478.9,392.6 480.1,394.2 481.2,395.8C482.3,397.5 483.3,399.2 484.4,400.9C485.4,402.6 486.5,404.3 487.5,406.0C488.6,407.7 489.8,409.6 490.7,411.1C491.7,412.6 492.8,414.3 493.2,415.0"/>
<path stroke="#ff0000" stroke-width="1.6" d="M181.4,288.8C182.4,288.9 185.4,289.0 187.4,289.1C189.4,289.2 191.4,289.3 193.4,289.4C195.4,289.6 197.4,289.7 199.4,289.8C201.4,289.9 203.4,290.0 205.4,290.2C207.4,290.3 209.3,290.5 211.3,290.7C213.3,290.9 215.3,291.1 217.3,291.3C219.3,291.5 221.3,291.7 223.3,292.0C225.3,292.2 227.2,292.4 229.2,292.7C231.2,292.9 233.2,293.2 235.2,293.4C237.2,293.6 239.2,293.9 241.1,294.1C243.1,294.4 245.1,294.6 247.1,294.9C249.1,295.1 251.1,295.3 253.1,295.6C255.0,295.8 257.0,296.0 259.0,296.2C261.0,296.5 263.0,296.7 265.0,296.9C267.0,297.1 268.9,297.4 270.9,297.7C272.9,297.9 274.9,298.2 276.9,298.5C278.8,298.8 280.8,299.2 282.8,299.5C284.8,299.9 286.7,300.2 288.7,300.6C290.6,301.0 292.6,301.4 294.6,301.7C296.5,302.1 298.5,302.5 300.5,302.9C302.4,303.3 304.4,303.7 306.3,304.1C308.3,304.5 310.3,304.9 312.2,305.3C314.2,305.8 316.1,306.2 318.1,306.6C320.0,307.1 321.9,307.6 323.9,308.2C325.8,308.7 327.7,309.3 329.6,309.9C331.5,310.5 333.4,311.1 335.3,311.7C337.2,312.3 339.1,313.0 341.0,313.7C342.9,314.4 344.7,315.1 346.6,315.8C348.5,316.6 350.3,317.3 352.1,318.1C354.0,318.9 355.8,319.8 357.6,320.6C359.4,321.5 361.2,322.4 362.9,323.4C364.7,324.3 366.4,325.3 368.2,326.3C369.9,327.3 371.6,328.4 373.3,329.4C375.0,330.5 376.6,331.6 378.3,332.8C379.9,333.9 381.5,335.1 383.2,336.2C384.8,337.4 386.4,338.6 388.0,339.8C389.6,341.0 391.1,342.3 392.7,343.5C394.2,344.8 395.8,346.0 397.3,347.3C398.9,348.6 400.4,349.9 401.9,351.2C403.4,352.5 404.9,353.9 406.4,355.2C407.9,356.5 409.3,357.9 410.8,359.3C412.3,360.6 413.7,362.0 415.2,363.4C416.6,364.8 418.0,366.2 419.4,367.6C420.8,369.0 422.2,370.5 423.6,371.9C425.0,373.4 426.3,374.8 427.7,376.3C429.0,377.8 430.3,379.3 431.6,380.8C432.9,382.3 434.2,383.9 435.5,385.4C436.8,386.9 438.1,388.5 439.3,390.0C440.6,391.6 441.8,393.2 443.0,394.8C444.2,396.4 445.4,398.0 446.6,399.6C447.7,401.2 448.8,402.9 449.9,404.6C451.0,406.2 452.1,407.9 453.2,409.6C454.3,411.3 455.3,413.0 456.4,414.7C457.5,416.4 458.5,418.1 459.6,419.8C460.6,421.5 461.7,423.2 462.7,424.9C463.7,426.6 464.8,428.3 465.8,430.0C466.8,431.8 467.8,433.5 468.8,435.2C469.8,437.0 470.8,438.7 471.7,440.4C472.7,442.2 473.7,444.0 474.6,445.7C475.5,447.5 476.5,449.3 477.4,451.0C478.4,452.8 479.3,454.6 480.2,456.3C481.2,458.1 482.1,459.8 483.0,461.6C484.0,463.4 484.9,465.2 485.8,466.9C486.8,468.7 487.7,470.5 488.6,472.2C489.6,474.0 490.6,476.1 491.4,477.6C492.2,479.0 492.9,480.4 493.2,481.0"/>
<path stroke="#00ff00" stroke-width="1.9" d="M181.4,288.1C182.4,288.2 185.4,288.3 187.4,288.4C189.4,288.6 191.4,288.7 193.4,288.8C195.4,288.9 197.4,289.0 199.4,289.1C201.4,289.2 203.4,289.4 205.4,289.5C207.4,289.6 209.4,289.7 211.4,289.8C213.3,289.9 215.3,290.1 217.3,290.2C219.3,290.3 221.3,290.4 223.3,290.6C225.3,290.7 227.3,290.8 229.3,291.0C231.3,291.1 233.3,291.2 235.3,291.4C237.3,291.5 239.3,291.6 241.3,291.8C243.3,291.9 245.3,292.0 247.3,292.2C249.3,292.3 251.3,292.4 253.3,292.6C255.3,292.7 257.2,292.9 259.2,293.0C261.2,293.2 263.2,293.3 265.2,293.5C267.2,293.6 269.2,293.8 271.2,293.9C273.2,294.1 275.2,294.3 277.2,294.5C279.2,294.6 281.2,294.8 283.2,295.1C285.1,295.3 287.1,295.5 289.1,295.7C291.1,296.0 293.1,296.2 295.1,296.5C297.0,296.8 299.0,297.1 301.0,297.4C303.0,297.7 305.0,298.0 306.9,298.3C308.9,298.6 310.9,298.9 312.9,299.3C314.8,299.6 316.8,299.9 318.8,300.3C320.7,300.6 322.7,300.9 324.7,301.2C326.7,301.6 328.6,301.9 330.6,302.2C332.6,302.6 334.5,303.0 336.5,303.4C338.5,303.8 340.4,304.2 342.4,304.6C344.3,305.1 346.3,305.5 348.2,306.0C350.1,306.5 352.1,307.1 354.0,307.6C355.9,308.2 357.8,308.8 359.7,309.4C361.6,310.0 363.5,310.7 365.4,311.3C367.3,312.0 369.2,312.6 371.1,313.3C372.9,314.0 374.8,314.7 376.7,315.4C378.6,316.1 380.4,316.8 382.3,317.5C384.2,318.3 386.0,319.0 387.9,319.7C389.7,320.5 391.6,321.2 393.4,322.0C395.3,322.8 397.1,323.5 399.0,324.3C400.8,325.1 402.6,325.9 404.5,326.7C406.3,327.5 408.1,328.3 410.0,329.1C411.8,329.9 413.7,330.6 415.5,331.4C417.3,332.3 419.1,333.1 420.9,334.0C422.7,334.9 424.4,335.9 426.2,336.9C427.9,337.9 429.6,338.9 431.3,340.0C432.9,341.1 434.6,342.3 436.2,343.5C437.8,344.6 439.4,345.9 441.0,347.1C442.5,348.3 444.1,349.6 445.7,350.8C447.2,352.1 448.8,353.3 450.3,354.6C451.8,355.9 453.4,357.2 454.9,358.5C456.4,359.8 457.9,361.2 459.4,362.5C460.8,363.8 462.3,365.2 463.7,366.6C465.2,368.0 466.6,369.4 468.0,370.8C469.5,372.2 470.9,373.6 472.3,375.1C473.6,376.5 475.0,378.0 476.4,379.4C477.7,380.9 479.1,382.4 480.4,383.9C481.7,385.3 483.1,386.8 484.4,388.4C485.7,389.9 487.0,391.4 488.3,392.9C489.6,394.4 491.3,396.4 492.2,397.5C493.1,398.5 493.3,398.7 493.5,399.0"/>
<path stroke="#0000ff" stroke-width="1.9" d="M181.4,284.4C182.4,284.4 185.4,284.5 187.4,284.6C189.4,284.6 191.4,284.7 193.4,284.8C195.4,284.8 197.4,284.9 199.4,284.9C201.4,285.0 203.4,285.1 205.4,285.1C207.4,285.2 209.4,285.2 211.4,285.3C213.4,285.4 215.4,285.4 217.4,285.5C219.4,285.5 221.4,285.6 223.4,285.7C225.4,285.7 227.4,285.8 229.4,285.9C231.4,286.0 233.4,286.0 235.4,286.1C237.4,286.2 239.4,286.2 241.4,286.3C243.4,286.4 245.4,286.5 247.4,286.5C249.4,286.6 251.4,286.7 253.4,286.8C255.4,286.8 257.4,286.9 259.4,287.0C261.4,287.1 263.4,287.2 265.4,287.2C267.3,287.3 269.3,287.4 271.3,287.5C273.3,287.6 275.3,287.7 277.3,287.8C279.3,287.9 281.3,288.0 283.3,288.1C285.3,288.2 287.3,288.3 289.3,288.4C291.3,288.5 293.3,288.6 295.3,288.8C297.3,288.9 299.3,289.0 301.3,289.1C303.3,289.2 305.3,289.3 307.3,289.5C309.3,289.6 311.3,289.7 313.3,289.9C315.3,290.0 317.3,290.1 319.3,290.3C321.3,290.4 323.3,290.6 325.2,290.7C327.2,290.9 329.2,291.0 331.2,291.2C333.2,291.4 335.2,291.6 337.2,291.7C339.2,291.9 341.2,292.1 343.2,292.3C345.2,292.5 347.2,292.7 349.1,292.9C351.1,293.1 353.1,293.3 355.1,293.5C357.1,293.7 359.1,293.9 361.1,294.2C363.1,294.4 365.1,294.6 367.0,294.8C369.0,295.0 371.0,295.3 373.0,295.5C375.0,295.7 377.0,296.0 379.0,296.2C381.0,296.4 382.9,296.7 384.9,296.9C386.9,297.2 388.9,297.4 390.9,297.7C392.9,297.9 394.8,298.2 396.8,298.4C398.8,298.7 400.8,298.9 402.8,299.2C404.8,299.5 406.7,299.7 408.7,300.0C410.7,300.3 412.7,300.5 414.7,300.8C416.6,301.1 418.6,301.4 420.6,301.7C422.6,302.0 424.5,302.4 426.5,302.8C428.4,303.2 430.4,303.7 432.3,304.2C434.3,304.7 436.2,305.2 438.1,305.8C440.0,306.3 442.0,306.9 443.9,307.5C445.8,308.1 447.7,308.7 449.6,309.3C451.5,309.9 453.4,310.5 455.3,311.1C457.2,311.8 459.1,312.4 461.0,313.1C462.8,313.8 464.7,314.5 466.6,315.2C468.4,316.0 470.3,316.8 472.1,317.7C473.9,318.5 475.6,319.5 477.4,320.5C479.1,321.5 480.8,322.5 482.4,323.6C484.1,324.8 485.7,326.0 487.3,327.2C488.8,328.4 490.8,330.2 491.8,331.1C492.9,332.0 493.2,332.4 493.5,332.6"/>
<path stroke="#800080" stroke-width="1.6" d="M181.4,281.3C182.4,281.3 185.4,281.5 187.4,281.6C189.4,281.6 191.4,281.7 193.4,281.8C195.4,281.9 197.4,282.0 199.4,282.1C201.4,282.2 203.4,282.2 205.4,282.3C207.4,282.4 209.4,282.5 211.4,282.6C213.4,282.7 215.4,282.8 217.4,282.8C219.4,282.9 221.4,283.0 223.4,283.1C225.4,283.2 227.4,283.3 229.4,283.4C231.4,283.5 233.4,283.5 235.3,283.6C237.3,283.7 239.3,283.8 241.3,283.9C243.3,284.0 245.3,284.0 247.3,284.1C249.3,284.2 251.3,284.3 253.3,284.4C255.3,284.4 257.3,284.5 259.3,284.6C261.3,284.7 263.3,284.8 265.3,284.9C267.3,285.0 269.3,285.1 271.3,285.2C273.3,285.3 275.3,285.5 277.3,285.6C279.3,285.7 281.3,285.9 283.3,286.0C285.3,286.2 287.3,286.3 289.3,286.5C291.3,286.7 293.3,286.8 295.2,287.0C297.2,287.2 299.2,287.3 301.2,287.5C303.2,287.7 305.2,287.9 307.2,288.1C309.2,288.3 311.2,288.5 313.2,288.6C315.2,288.8 317.2,289.0 319.1,289.2C321.1,289.4 323.1,289.6 325.1,289.8C327.1,290.0 329.1,290.2 331.1,290.4C333.1,290.6 335.1,290.8 337.1,291.0C339.0,291.2 341.0,291.5 343.0,291.7C345.0,291.9 347.0,292.1 349.0,292.3C351.0,292.6 353.0,292.8 354.9,293.0C356.9,293.2 358.9,293.5 360.9,293.7C362.9,293.9 364.9,294.2 366.9,294.4C368.9,294.6 370.8,294.8 372.8,295.1C374.8,295.3 376.8,295.5 378.8,295.8C380.8,296.0 382.8,296.2 384.7,296.4C386.7,296.7 388.7,296.9 390.7,297.1C392.7,297.4 394.7,297.6 396.7,297.9C398.6,298.1 400.6,298.3 402.6,298.6C404.6,298.9 406.6,299.1 408.6,299.4C410.5,299.6 412.5,299.9 414.5,300.2C416.5,300.5 418.5,300.7 420.4,301.1C422.4,301.4 424.4,301.8 426.3,302.2C428.3,302.6 430.2,303.0 432.2,303.5C434.1,304.0 436.1,304.5 438.0,305.0C439.9,305.6 441.8,306.1 443.8,306.7C445.7,307.3 447.6,307.9 449.5,308.4C451.4,309.0 453.3,309.6 455.2,310.3C457.1,310.9 459.0,311.5 460.9,312.2C462.8,312.9 464.7,313.5 466.5,314.3C468.4,315.1 470.2,315.9 472.0,316.8C473.8,317.6 475.5,318.6 477.3,319.6C479.0,320.6 480.7,321.7 482.3,322.8C484.0,324.0 485.5,325.2 487.1,326.4C488.6,327.7 490.5,329.4 491.6,330.4C492.7,331.3 493.2,331.8 493.5,332.1"/>
<path d="M181,302.2H492.3" stroke="#000" stroke-width="1.4" stroke-dasharray="4.2 1.6 1.4 1.8"/>
</g>
<g stroke="#262626" stroke-width="1.25" fill="none">
<rect x="181.4" y="226.1" width="312.1" height="272.4"/>
<path d="M176.9,226.1H181.4M178.9,253.3H181.4M176.9,280.6H181.4M178.9,307.8H181.4M176.9,335.1H181.4M178.9,362.3H181.4M176.9,389.5H181.4M178.9,416.8H181.4M176.9,444.0H181.4M178.9,471.3H181.4M176.9,498.5H181.4M181.4,498.5V504.1M220.4,498.5V501.7M259.4,498.5V504.1M298.4,498.5V501.7M337.5,498.5V504.1M376.5,498.5V501.7M415.5,498.5V504.1M454.5,498.5V501.7M493.5,498.5V504.1"/>
</g>
<g font-size="11.6px" fill="#111">
<text transform="translate(172.9,229.1) scale(0.85,1)" text-anchor="end">105</text>
<text transform="translate(172.9,283.6) scale(0.85,1)" text-anchor="end">100</text>
<text transform="translate(172.9,338.1) scale(0.85,1)" text-anchor="end">95</text>
<text transform="translate(172.9,392.5) scale(0.85,1)" text-anchor="end">90</text>
<text transform="translate(172.9,447.0) scale(0.85,1)" text-anchor="end">85</text>
<text transform="translate(172.9,501.5) scale(0.85,1)" text-anchor="end">80</text>
<text transform="translate(181.2,517.5) scale(0.85,1)" text-anchor="middle">520</text>
<text transform="translate(259.2,517.5) scale(0.85,1)" text-anchor="middle">540</text>
<text transform="translate(337.3,517.5) scale(0.85,1)" text-anchor="middle">560</text>
<text transform="translate(415.3,517.5) scale(0.85,1)" text-anchor="middle">580</text>
<text transform="translate(493.3,517.5) scale(0.85,1)" text-anchor="middle">600</text>
</g>
<text transform="translate(337.3,543.2) scale(0.86,1)" font-size="16.8px" text-anchor="middle" fill="#111">Temperature (K)</text>
<text transform="translate(148.7,354.5) scale(0.9,1) rotate(-90)" font-size="17.2px" text-anchor="middle" fill="#111">Weight Loss (%)</text>
<path d="M235.9,339.5V309.0" stroke="#000000" stroke-width="1.5" fill="none"/><path d="M235.9,306.0L234.4,310.6L237.4,310.6Z" fill="#000000"/>
<path d="M294.8,339.5V309.0" stroke="#ff0000" stroke-width="1.0" fill="none"/><path d="M294.8,306.0L293.3,310.6L296.3,310.6Z" fill="#ff0000"/>
<path d="M335.3,338.0V309.0" stroke="#00ff00" stroke-width="1.3" fill="none"/><path d="M335.3,306.0L333.8,310.6L336.8,310.6Z" fill="#00ff00"/>
<path d="M419.6,340.0V309.0" stroke="#800080" stroke-width="1.2" fill="none"/><path d="M419.6,306.0L418.1,310.6L421.1,310.6Z" fill="#800080"/>
<path d="M428.5,340.0V309.0" stroke="#0000ff" stroke-width="1.2" fill="none"/><path d="M428.5,306.0L427.0,310.6L430.0,310.6Z" fill="#0000ff"/>
<text transform="translate(235.8,352.3) scale(0.82,1)" font-size="15.2px" font-weight="bold" style="fill:#000000" text-anchor="middle">T</text><text x="238.7" y="358.7" font-size="7.5px" font-weight="bold" style="fill:#000000">d</text>
<text transform="translate(295.8,352.3) scale(0.82,1)" font-size="15.2px" font-weight="bold" style="fill:#ff0000" text-anchor="middle">T</text><text x="298.7" y="358.7" font-size="7.5px" font-weight="bold" style="fill:#ff0000">d</text>
<text transform="translate(335.6,352.3) scale(0.82,1)" font-size="15.2px" font-weight="bold" style="fill:#00ff00" text-anchor="middle">T</text><text x="338.5" y="358.7" font-size="7.5px" font-weight="bold" style="fill:#00ff00">d</text>
<text transform="translate(418.8,352.3) scale(0.82,1)" font-size="15.2px" font-weight="bold" style="fill:#800080" text-anchor="middle">T</text><text x="421.7" y="358.7" font-size="7.5px" font-weight="bold" style="fill:#800080">d</text>
<text transform="translate(430.5,352.3) scale(0.82,1)" font-size="15.2px" font-weight="bold" style="fill:#0000ff" text-anchor="middle">T</text><text x="433.4" y="358.7" font-size="7.5px" font-weight="bold" style="fill:#0000ff">d</text>
<rect x="183.7" y="400.3" width="111.4" height="93.2" fill="#fff" stroke="#858585" stroke-width="1"/>
<path d="M183.2,493.5H295.6" stroke="#1c1c1c" stroke-width="1.2" fill="none"/>
<path d="M189.3,414.1H214.8" stroke="#000000" stroke-width="1.5" fill="none"/>
<text transform="translate(215.2,418.7) scale(0.825,1)" font-size="13.3px" fill="#111">: <tspan font-style="italic">n</tspan>=2 for <tspan font-style="italic">M</tspan>=Zn</text>
<path d="M189.3,430.4H214.8" stroke="#ff0000" stroke-width="1.5" fill="none"/>
<text transform="translate(215.2,435.0) scale(0.825,1)" font-size="13.3px" fill="#111">: <tspan font-style="italic">n</tspan>=3 for <tspan font-style="italic">M</tspan>=Zn</text>
<path d="M189.3,446.8H214.8" stroke="#00ff00" stroke-width="1.5" fill="none"/>
<text transform="translate(215.2,451.4) scale(0.825,1)" font-size="13.3px" fill="#111">: <tspan font-style="italic">n</tspan>=4 for <tspan font-style="italic">M</tspan>=Zn</text>
<path d="M189.3,463.2H214.8" stroke="#0000ff" stroke-width="1.5" fill="none"/>
<text transform="translate(215.2,467.8) scale(0.825,1)" font-size="13.3px" fill="#111">: <tspan font-style="italic">n</tspan>=5 for <tspan font-style="italic">M</tspan>=Zn</text>
<path d="M189.3,479.5H214.8" stroke="#800080" stroke-width="1.5" fill="none"/>
<text transform="translate(215.2,484.1) scale(0.825,1)" font-size="13.3px" fill="#111">: <tspan font-style="italic">n</tspan>=6 for <tspan font-style="italic">M</tspan>=Zn</text>
</svg>
</body></html>
